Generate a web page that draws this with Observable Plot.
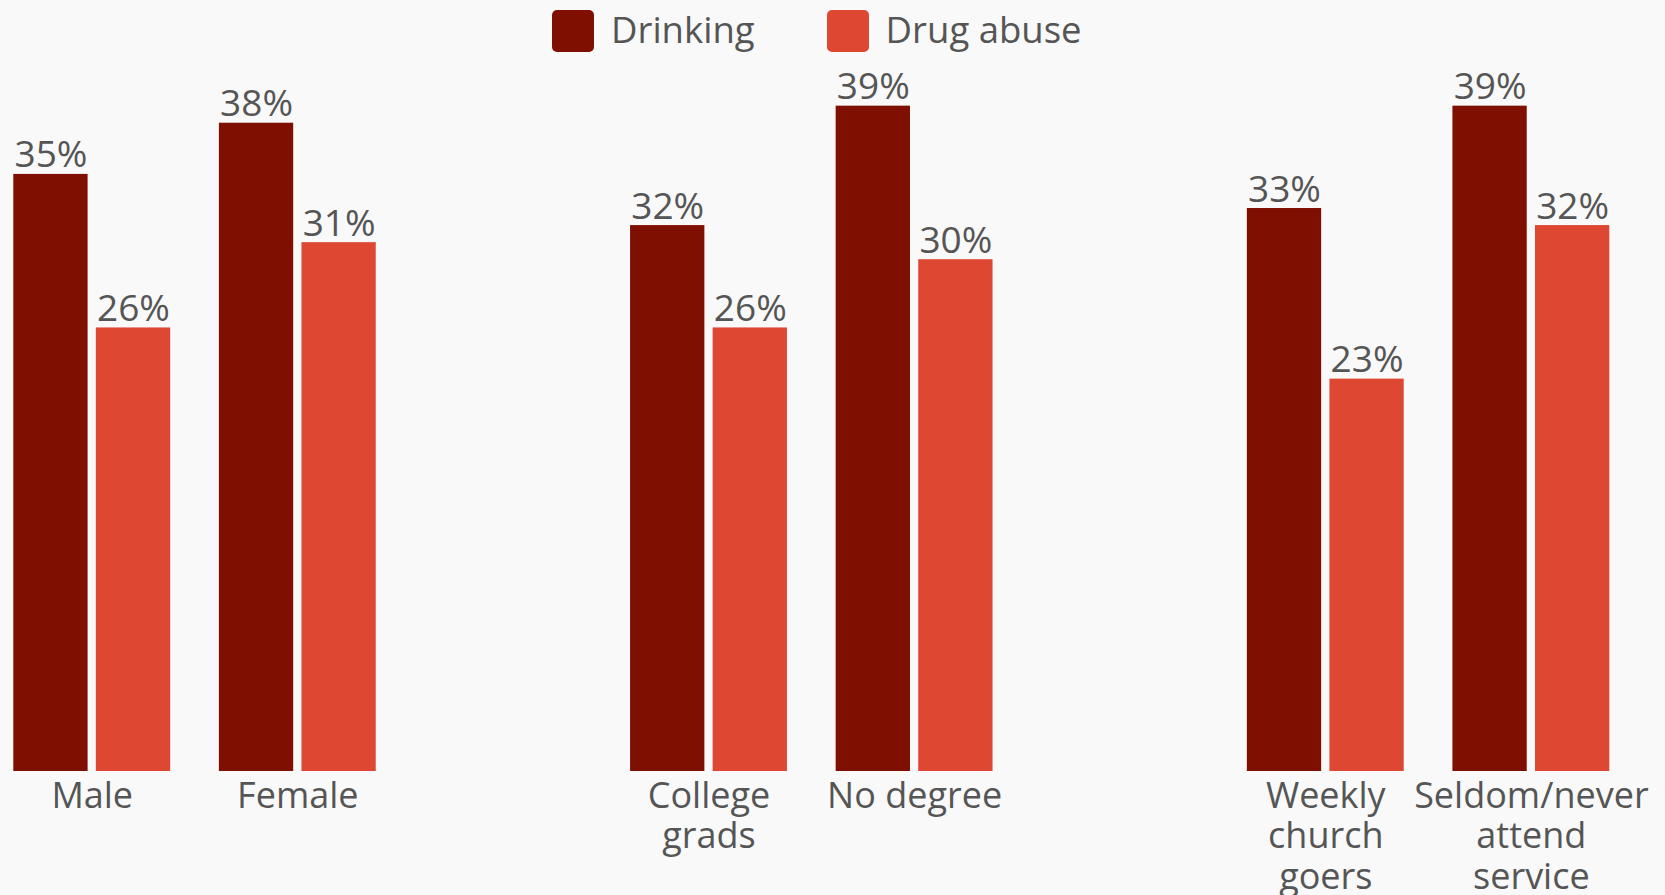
<!DOCTYPE html>
<html><head><meta charset="utf-8">
<script src="https://cdn.jsdelivr.net/npm/d3@7"></script>
<script src="https://cdn.jsdelivr.net/npm/@observablehq/plot@0.6"></script>
<style>
html,body{margin:0;padding:0;background:#f9f9f9;}
body{font-family:"Open Sans",sans-serif;color:#555;width:1665px;height:895px;overflow:hidden;}
#legend{height:70px;box-sizing:border-box;padding-left:552px;padding-top:9.5px;display:flex;align-items:flex-start;}
#legend .item{display:flex;align-items:flex-start;margin-right:72px;}
#legend .sw{width:42px;height:42px;border-radius:5px;margin-right:17px;}
#legend .lt{font-size:36.5px;line-height:38px;color:#555;}
#chart svg{display:block;}
</style></head><body>
<div id="legend"></div>
<div id="chart"></div>
<script>
const categories = ["Male","Female","College grads","No degree","Weekly church goers","Seldom/never attend service"];
const tickLabels = ["Male","Female","College\ngrads","No degree","Weekly\nchurch\ngoers","Seldom/never\nattend\nservice"];
const slots = ["Male","Female","gap1","College grads","No degree","gap2","Weekly church goers","Seldom/never attend service"];
const series = ["Drinking","Drug abuse"];
const drinking = [35,38,32,39,33,39];
const drugAbuse = [26,31,26,30,23,32];
const colors = ["#7f0f00","#de4833"];

const rows = categories.flatMap((c,i)=>[
  {category:c, series:series[0], value:drinking[i]},
  {category:c, series:series[1], value:drugAbuse[i]}
]);
const labelMap = new Map(categories.map((c,i)=>[c,tickLabels[i]]));

const legend = d3.select("#legend");
series.forEach((s,i)=>{
  const it = legend.append("div").attr("class","item");
  it.append("span").attr("class","sw").style("background",colors[i]);
  it.append("span").attr("class","lt").text(s);
});

const chart = Plot.plot({
  width:1665, height:825,
  marginTop:18.6, marginBottom:124, marginLeft:13.3, marginRight:55.7,
  style:{background:"transparent", fontFamily:'"Open Sans", sans-serif', fontSize:"36px", color:"#555", overflow:"visible"},
  fx:{domain:slots, paddingInner:0.237, paddingOuter:0, round:false, axis:null},
  x:{domain:series, paddingInner:0.1, paddingOuter:0, round:false, axis:null},
  y:{domain:[0,40], axis:null},
  color:{domain:series, range:colors},
  marks:[
    Plot.barY(rows,{fx:"category", x:"series", y:"value", fill:"series"}),
    Plot.text(rows,{fx:"category", x:"series", y:"value", text:d=>d.value+"%", lineAnchor:"bottom", dy:-7, fill:"#555", fontSize:37}),
    Plot.axisFx({anchor:"bottom", tickSize:0, tickPadding:8, tickFormat:d=>labelMap.get(d) ?? "", fontSize:36, lineHeight:1.12, fill:"#555", label:null})
  ]
});
document.getElementById("chart").appendChild(chart);
</script>
</body></html>
